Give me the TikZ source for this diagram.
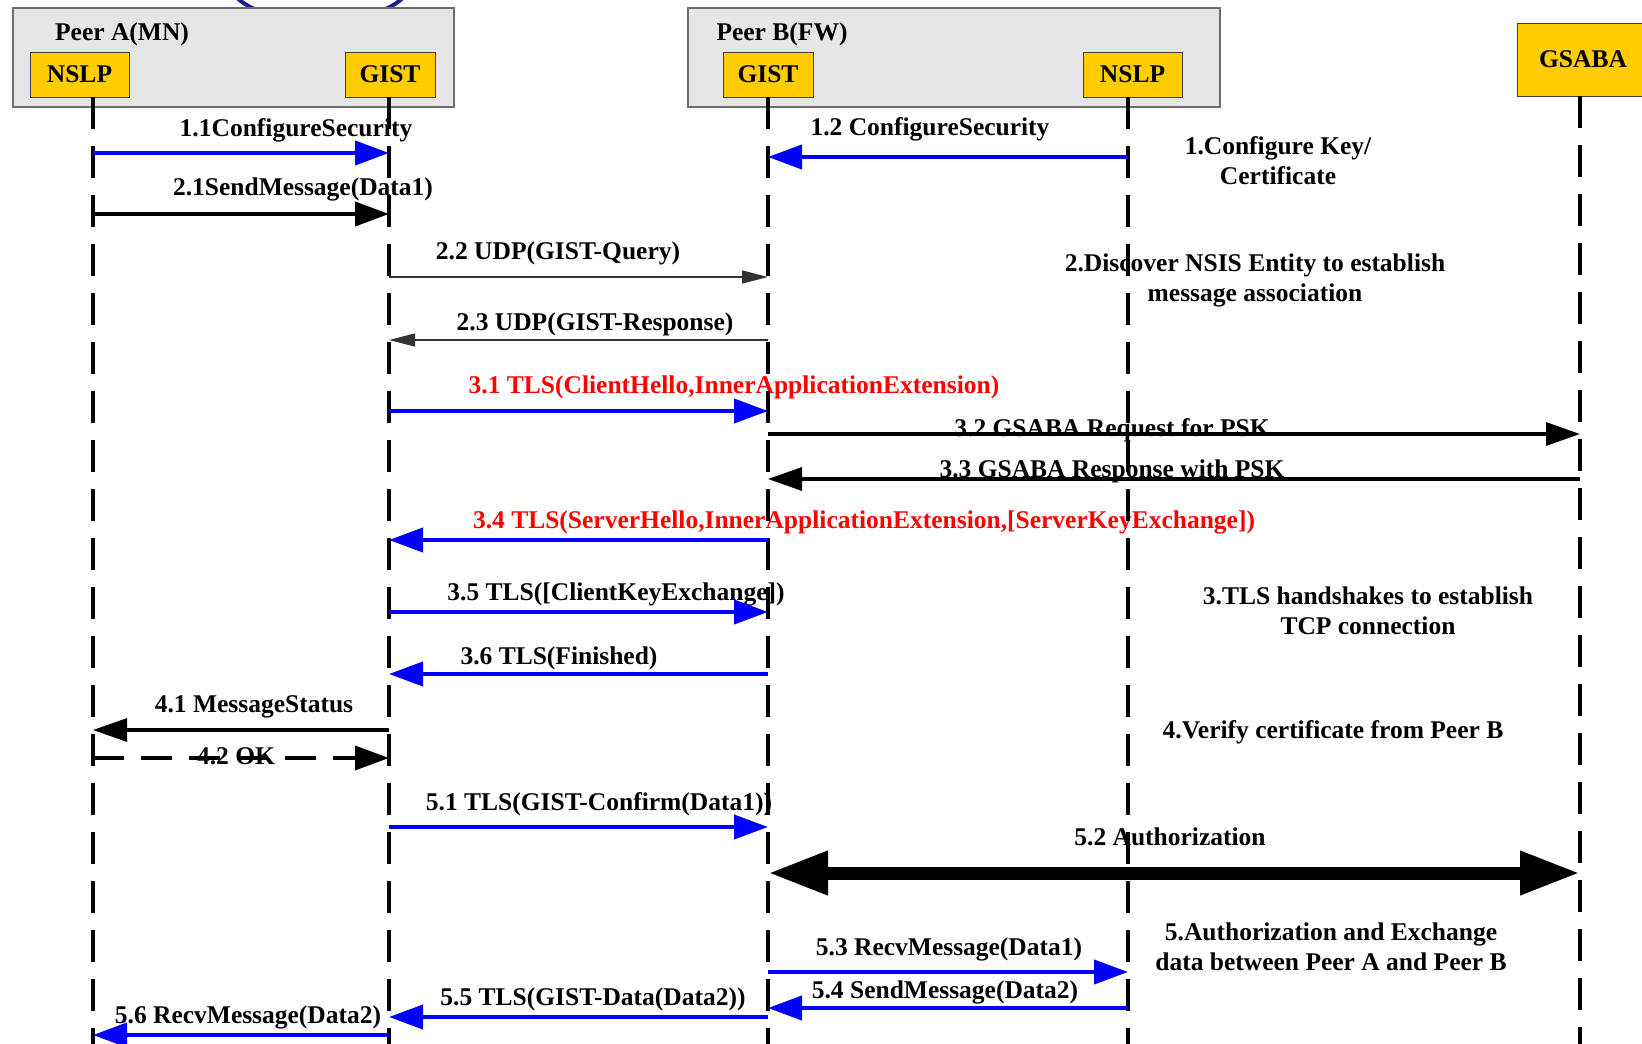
\documentclass[tikz,border=0pt]{standalone}
\usepackage{fontspec}
\setmainfont{Liberation Serif}
\usetikzlibrary{arrows.meta}
\definecolor{peerfill}{HTML}{E6E6E6}
\definecolor{peerline}{HTML}{6E6E6E}
\definecolor{entfill}{HTML}{FFCC00}
\definecolor{navy}{HTML}{15258A}
\definecolor{msgblue}{HTML}{0000FF}
\definecolor{msgred}{HTML}{FF0000}

\begin{document}
\begin{tikzpicture}[x=1pt,y=-1pt,
  peer/.style={draw=peerline, fill=peerfill, line width=1.5pt, inner sep=0pt, anchor=north west},
  entity/.style={draw=black!75, fill=entfill, line width=1pt, inner sep=0pt,
    font=\bfseries\fontsize{25.5}{30}\selectfont},
  lbl/.style={inner sep=0pt, anchor=base, font=\bfseries\fontsize{25.5}{30}\selectfont},
  redlbl/.style={lbl, text=msgred},
  note/.style={inner sep=0pt, align=center, font=\bfseries\fontsize{25.5}{30}\selectfont},
  lifeline/.style={line width=3.5pt, dash pattern=on 32pt off 17pt},
  bluemsg/.style={draw=msgblue, line width=4pt, -{Triangle[length=34pt,width=24pt]}, fill=msgblue},
  blackmsg/.style={line width=4pt, -{Triangle[length=34pt,width=24pt]}},
  midmsg/.style={line width=3.2pt, -{Triangle[length=34pt,width=23pt]}},
  thinmsg/.style={draw=black!80, line width=1.4pt, -{Triangle[length=26pt,width=13pt]}, fill=black},
  dashmsg/.style={line width=3.5pt, dash pattern=on 31pt off 17pt, -{Triangle[length=34pt,width=24pt]}},
  bigmsg/.style={line width=13pt, {Triangle[length=60pt,width=41pt]}-{Triangle[length=60pt,width=41pt]}}
]
\useasboundingbox (0,0) rectangle (1642,1044);
\clip (0,0) rectangle (1642,1044);

% outline partly hidden behind the Peer A frame
\draw[navy, line width=4pt] (320,-17) ellipse [x radius=90, y radius=38];

% peer frames
\node[peer, minimum width=441, minimum height=99] (peerA) at (12,7) {};
\node[peer, minimum width=532, minimum height=99] (peerB) at (687,7) {};
\node[lbl] (peerAt) at (122,40) {Peer A(MN)};
\node[lbl] (peerBt) at (782,40) {Peer B(FW)};

% protocol entities
\node[entity, minimum width=99, minimum height=45] (nslpA) at (79.5,74.5) {NSLP};
\node[entity, minimum width=90, minimum height=45] (gistA) at (390,74.5) {GIST};
\node[entity, minimum width=90, minimum height=45] (gistB) at (768,74.5) {GIST};
\node[entity, minimum width=99, minimum height=45] (nslpB) at (1132.5,74.5) {NSLP};
\node[entity, minimum width=132, minimum height=73] (gsaba) at (1583,59.5) {GSABA};

% lifeline anchors
\coordinate (llNA) at (93,97);
\coordinate (llGA) at (389,97);
\coordinate (llGB) at (768,97);
\coordinate (llNB) at (1128,97);
\coordinate (llGS) at (1580,96);
\coordinate (bottom) at (0,1060);

% message levels
\coordinate (m11) at (0,153);
\coordinate (m12) at (0,157);
\coordinate (m21) at (0,214);
\coordinate (m22) at (0,277);
\coordinate (m23) at (0,340);
\coordinate (m31) at (0,411);
\coordinate (m32) at (0,434);
\coordinate (m33) at (0,479);
\coordinate (m34) at (0,540);
\coordinate (m35) at (0,612);
\coordinate (m36) at (0,674);
\coordinate (m41) at (0,730);
\coordinate (m42) at (0,758);
\coordinate (m51) at (0,827);
\coordinate (m52) at (0,873);
\coordinate (m53) at (0,972);
\coordinate (m54) at (0,1008);
\coordinate (m55) at (0,1017);
\coordinate (m56) at (0,1035);

% message labels
\node[lbl] (t11) at (296,136) {1.1ConfigureSecurity};
\node[lbl] (t21) at (303,195) {2.1SendMessage(Data1)};
\node[lbl] (t12) at (930,135) {1.2 ConfigureSecurity};
\node[lbl] (t22) at (558,259) {2.2 UDP(GIST-Query)};
\node[lbl] (t23) at (595,330) {2.3 UDP(GIST-Response)};
\node[redlbl] (t31) at (734,393) {3.1 TLS(ClientHello,InnerApplicationExtension)};
\node[lbl] (t32) at (1112,436) {3.2 GSABA Request for PSK};
\node[lbl] (t33) at (1112,477) {3.3 GSABA Response with PSK};
\node[redlbl] (t34) at (864,528) {3.4 TLS(ServerHello,InnerApplicationExtension,[ServerKeyExchange])};
\node[lbl] (t35) at (616,600) {3.5 TLS([ClientKeyExchange])};
\node[lbl] (t36) at (559,664) {3.6 TLS(Finished)};
\node[lbl] (t41) at (254,712) {4.1 MessageStatus};
\node[lbl] (t42) at (236,764) {4.2 OK};
\node[lbl] (t51) at (599,810) {5.1 TLS(GIST-Confirm(Data1))};
\node[lbl] (t52) at (1170,845) {5.2 Authorization};
\node[lbl] (t53) at (949,955) {5.3 RecvMessage(Data1)};
\node[lbl] (t54) at (945,998) {5.4 SendMessage(Data2)};
\node[lbl] (t55) at (593,1005) {5.5 TLS(GIST-Data(Data2))};
\node[lbl] (t56) at (248,1023) {5.6 RecvMessage(Data2)};

% phase notes
\node[note] (n1) at (1278,161) {1.Configure Key/\\Certificate};
\node[note] (n2) at (1255,280) {2.Discover NSIS Entity to establish\\message association};
\node[note] (n3) at (1368,611) {3.TLS handshakes to establish\\TCP connection};
\node[lbl] (n4) at (1333,738) {4.Verify certificate from Peer B};
\node[note] (n5) at (1331,947) {5.Authorization and Exchange\\data between Peer A and Peer B};

% lifelines
\foreach \l in {llNA,llGA,llGB,llNB,llGS}
  \draw[lifeline] (\l) -- (\l |- bottom);

% messages
\draw[bluemsg] (llNA |- m11) -- (llGA |- m11);
\draw[bluemsg] (llNB |- m12) -- (llGB |- m12);
\draw[blackmsg] (llNA |- m21) -- (llGA |- m21);
\draw[thinmsg] (llGA |- m22) -- (llGB |- m22);
\draw[thinmsg] (llGB |- m23) -- (llGA |- m23);
\draw[bluemsg] (llGA |- m31) -- (llGB |- m31);
\draw[midmsg] (llGB |- m32) -- (llGS |- m32);
\draw[midmsg] (llGS |- m33) -- (llGB |- m33);
\draw[bluemsg] (llGB |- m34) -- (llGA |- m34);
\draw[bluemsg] (llGA |- m35) -- (llGB |- m35);
\draw[bluemsg] (llGB |- m36) -- (llGA |- m36);
\draw[midmsg] (llGA |- m41) -- (llNA |- m41);
\draw[dashmsg] (llNA |- m42) -- (llGA |- m42);
\draw[bluemsg] (llGA |- m51) -- (llGB |- m51);
\draw[bigmsg] (llGB |- m52) -- (llGS |- m52);
\draw[bluemsg] (llGB |- m53) -- (llNB |- m53);
\draw[bluemsg] (llNB |- m54) -- (llGB |- m54);
\draw[bluemsg] (llGB |- m55) -- (llGA |- m55);
\draw[bluemsg] (llGA |- m56) -- (llNA |- m56);
\end{tikzpicture}
\end{document}
